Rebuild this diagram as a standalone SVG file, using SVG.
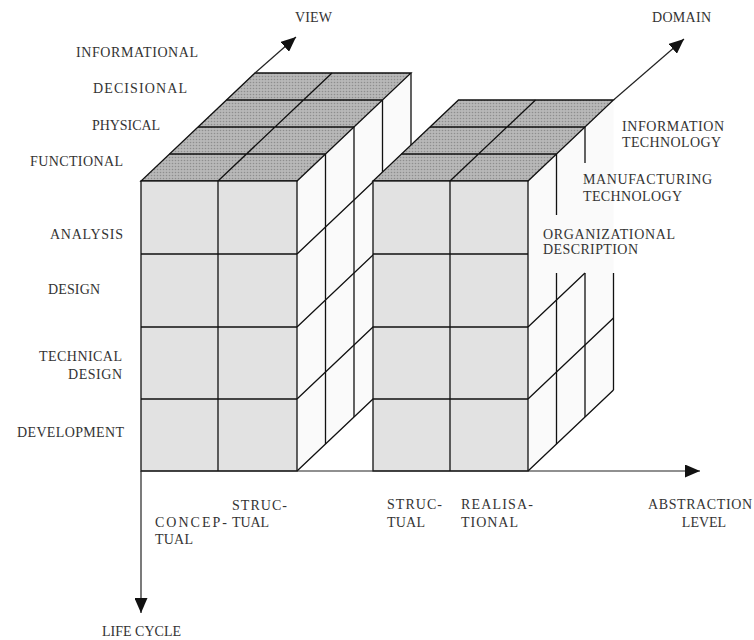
<svg xmlns="http://www.w3.org/2000/svg" width="754" height="640" viewBox="0 0 754 640">
<defs>
<pattern id="dots" width="3" height="3" patternUnits="userSpaceOnUse">
<rect width="3" height="3" fill="#b8b8b8"/>
<circle cx="1.5" cy="1.5" r="0.8" fill="#8e8e8e"/>
</pattern>
<marker id="arr" markerWidth="15" markerHeight="13" refX="15" refY="6.5" orient="auto" markerUnits="userSpaceOnUse">
<path d="M0,0 L15,6.5 L0,13 z" fill="#111"/>
</marker>
<style>
.ln{stroke:#111;stroke-width:1.3;fill:none}
.front{fill:#e2e2e2;stroke:#111;stroke-width:1.3}
.top{fill:url(#dots);stroke:#111;stroke-width:1.3}
.side{fill:#fafafa;stroke:none}
.ax{stroke:#222;stroke-width:1.2;fill:none;marker-end:url(#arr)}
text{font-family:"Liberation Serif","Times New Roman",serif;font-size:14px;fill:#333}
</style>
</defs>
<rect width="754" height="640" fill="#fff"/>

<g id="block-left">
<polygon class="side" points="297,181 411,73 411,363 297,471"/>
<g class="ln">
<path d="M325.5,154 V444 M354,127 V417 M382.5,100 V390 M411,73 V363"/>
<path d="M297,254 L411,146 M297,327 L411,219 M297,399 L411,291 M297,471 L411,363"/>
</g>
<polygon class="top" points="141,181 297,181 411,73 255,73"/>
<g class="ln">
<path d="M169.5,154 H325.5 M198,127 H354 M226.5,100 H382.5 M218,181 L332,73"/>
</g>
<rect class="front" x="141" y="181" width="156" height="290"/>
<g class="ln">
<path d="M218,181 V471 M141,254 H297 M141,327 H297 M141,399 H297"/>
</g>
</g>

<g id="block-right">
<polygon class="side" points="528,181 613.5,100 613.5,390 528,471"/>
<g class="ln">
<path d="M556.5,154 V215 M556.5,273 V444 M585,127 V163 M585,273 V417 M613.5,273 V390"/>
<path d="M528,327 L585,273 M528,399 L613.5,318 M528,471 L613.5,390"/>
</g>
<polygon class="top" points="373,181 528,181 613.5,100 458.5,100"/>
<g class="ln">
<path d="M401.5,154 H556.5 M430,127 H585 M450,181 L535.5,100"/>
</g>
<rect class="front" x="373" y="181" width="155" height="290"/>
<g class="ln">
<path d="M450,181 V471 M373,254 H528 M373,327 H528 M373,399 H528"/>
</g>
</g>

<g id="connectors">
<line class="ax" x1="141" y1="471" x2="700" y2="471"/>
<line class="ax" x1="141" y1="471" x2="141" y2="613"/>
<line class="ax" x1="255" y1="73" x2="296" y2="37"/>
<line class="ax" x1="613.5" y1="100" x2="684" y2="39"/>
</g>

<g id="labels">
<text x="295" y="22" textLength="37" lengthAdjust="spacing">VIEW</text>
<text x="652" y="22" textLength="59" lengthAdjust="spacing">DOMAIN</text>
<text x="76" y="57" textLength="122" lengthAdjust="spacing">INFORMATIONAL</text>
<text x="93" y="93" textLength="94" lengthAdjust="spacing">DECISIONAL</text>
<text x="92" y="130" textLength="68" lengthAdjust="spacing">PHYSICAL</text>
<text x="30" y="166" textLength="93" lengthAdjust="spacing">FUNCTIONAL</text>
<text x="50" y="239" textLength="73" lengthAdjust="spacing">ANALYSIS</text>
<text x="48" y="294" textLength="52" lengthAdjust="spacing">DESIGN</text>
<text x="39" y="361" textLength="83" lengthAdjust="spacing">TECHNICAL</text>
<text x="68" y="379" textLength="54" lengthAdjust="spacing">DESIGN</text>
<text x="17" y="437" textLength="107" lengthAdjust="spacing">DEVELOPMENT</text>
<text x="622" y="131" textLength="102" lengthAdjust="spacing">INFORMATION</text>
<text x="622" y="147" textLength="99" lengthAdjust="spacing">TECHNOLOGY</text>
<text x="583" y="184" textLength="129" lengthAdjust="spacing">MANUFACTURING</text>
<text x="583" y="201" textLength="99" lengthAdjust="spacing">TECHNOLOGY</text>
<text x="543" y="239" textLength="132" lengthAdjust="spacing">ORGANIZATIONAL</text>
<text x="543" y="254" textLength="95" lengthAdjust="spacing">DESCRIPTION</text>
<text x="155" y="527" textLength="72" lengthAdjust="spacing">CONCEP-</text>
<text x="155" y="544" textLength="38" lengthAdjust="spacing">TUAL</text>
<text x="232" y="510" textLength="55" lengthAdjust="spacing">STRUC-</text>
<text x="232" y="527" textLength="37" lengthAdjust="spacing">TUAL</text>
<text x="387" y="509" textLength="55" lengthAdjust="spacing">STRUC-</text>
<text x="387" y="527" textLength="38" lengthAdjust="spacing">TUAL</text>
<text x="461" y="509" textLength="72" lengthAdjust="spacing">REALISA-</text>
<text x="461" y="527" textLength="57" lengthAdjust="spacing">TIONAL</text>
<text x="648" y="509" textLength="104" lengthAdjust="spacing">ABSTRACTION</text>
<text x="704" y="527" text-anchor="middle">LEVEL</text>
<text x="102" y="636" textLength="79" lengthAdjust="spacing">LIFE CYCLE</text>
</g>
</svg>
